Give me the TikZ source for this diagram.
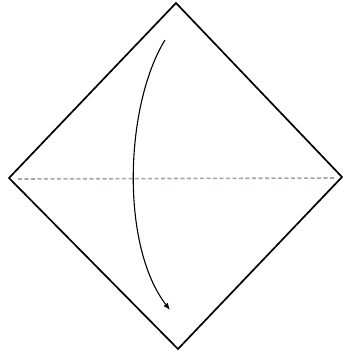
\documentclass[tikz,border=0pt]{standalone}
\usetikzlibrary{arrows.meta}
\definecolor{foldgray}{RGB}{160,166,178}
\tikzset{
  edge/.style={line width=1.7pt, line join=miter},
  valley/.style={foldgray, line width=1.6pt, dash pattern=on 4pt off 2.5pt},
  foldarrow/.style={line width=1.1pt, -{Latex[length=7pt,width=5.5pt]}}
}
\begin{document}
\begin{tikzpicture}[x=1pt,y=-1pt]
\useasboundingbox (0,0) rectangle (345,354);
\coordinate (T) at (176,3);
\coordinate (L) at (9,178);
\coordinate (R) at (342,177);
\coordinate (B) at (178,349);
\coordinate (VL) at (18,179);
\coordinate (VR) at (335,178);
\coordinate (As) at (165,40);
\coordinate (Ae) at (170,310);
\draw[valley] (VL) -- (VR);
\draw[edge] (T) -- (R) -- (B) -- (L) -- cycle;
\draw[foldarrow] (As) .. controls (125,105) and (120,245) .. (Ae);
\end{tikzpicture}
\end{document}
